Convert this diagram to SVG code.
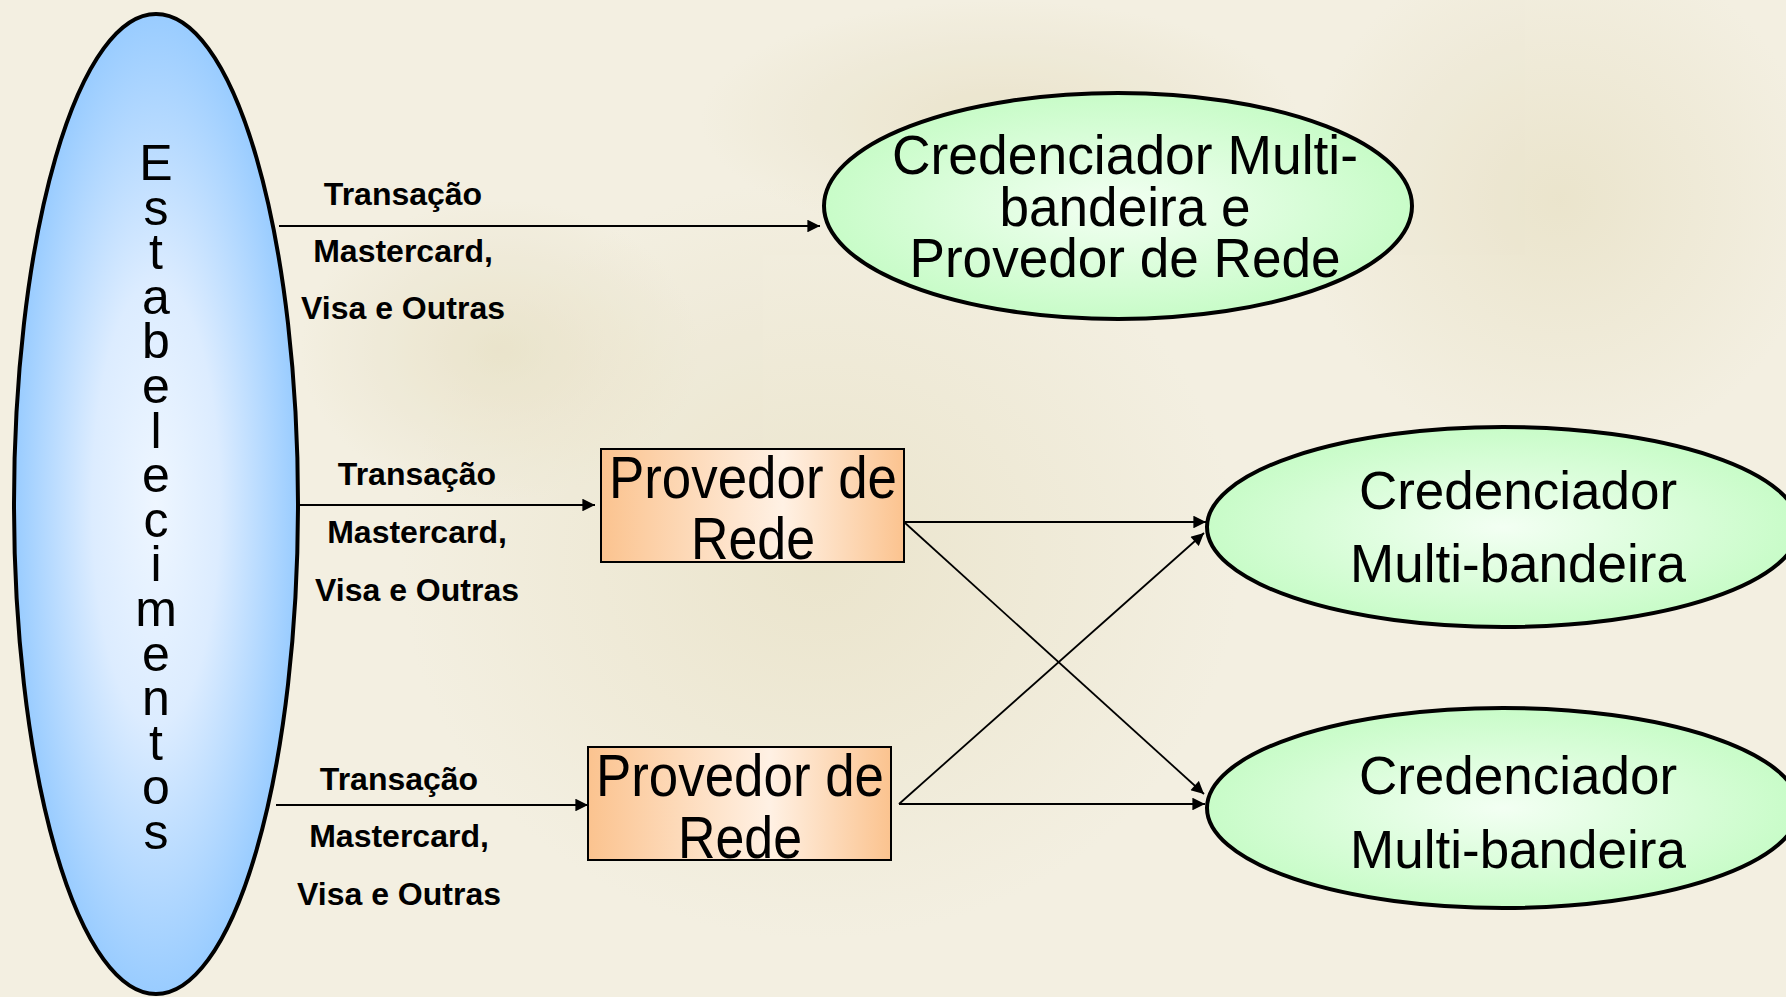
<svg xmlns="http://www.w3.org/2000/svg" width="1786" height="997" viewBox="0 0 1786 997">
<defs>
<style>
.bold{font-family:"Liberation Sans",Arial,sans-serif;font-weight:bold;font-size:32px;fill:#000;text-anchor:middle}
.big{font-family:"Liberation Sans",Arial,sans-serif;fill:#000;text-anchor:middle}
.conn{stroke:#000;stroke-width:1.8;fill:none;marker-end:url(#ah)}
</style>
<marker id="ah" viewBox="0 0 10 10" refX="10" refY="5" markerWidth="8" markerHeight="7" markerUnits="strokeWidth" orient="auto">
<path d="M0,0 L10,5 L0,10 z" fill="#000"/>
</marker>
<radialGradient id="blue" cx="50%" cy="50%" r="50%">
<stop offset="0" stop-color="#eef6ff"/>
<stop offset="0.45" stop-color="#dcecff"/>
<stop offset="1" stop-color="#99ccff"/>
</radialGradient>
<radialGradient id="green" cx="50%" cy="50%" r="50%">
<stop offset="0" stop-color="#f3fff3"/>
<stop offset="1" stop-color="#c8fcc8"/>
</radialGradient>
<linearGradient id="orange" x1="0" y1="0" x2="1" y2="0">
<stop offset="0" stop-color="#fbc38f"/>
<stop offset="0.6" stop-color="#fff1e4"/>
<stop offset="1" stop-color="#fbc38f"/>
</linearGradient>
<radialGradient id="bg1" cx="50%" cy="50%" r="50%">
<stop offset="0" stop-color="#e4dcbc" stop-opacity="0.7"/>
<stop offset="1" stop-color="#e4dcbc" stop-opacity="0"/>
</radialGradient>
</defs>
<rect width="1786" height="997" fill="#f3efe1"/>
<g id="background" opacity="0.8">
<ellipse cx="820" cy="560" rx="420" ry="380" fill="url(#bg1)"/>
<ellipse cx="1560" cy="200" rx="260" ry="260" fill="url(#bg1)"/>
<ellipse cx="1000" cy="120" rx="300" ry="120" fill="url(#bg1)"/>
<ellipse cx="500" cy="350" rx="200" ry="150" fill="url(#bg1)"/>
</g>
<g id="connectors">
<line class="conn" x1="279" y1="226" x2="820" y2="226"/>
<line class="conn" x1="298" y1="505" x2="595" y2="505"/>
<line class="conn" x1="276" y1="805" x2="588" y2="805"/>
<line class="conn" x1="904" y1="522" x2="1206" y2="522"/>
<line class="conn" x1="904" y1="522" x2="1204" y2="794"/>
<line class="conn" x1="899" y1="804" x2="1204" y2="533"/>
<line class="conn" x1="899" y1="804" x2="1205" y2="804"/>
</g>
<g id="labels">
<text class="bold" x="403" y="205">Transação</text>
<text class="bold" x="403" y="262">Mastercard,</text>
<text class="bold" x="403" y="319">Visa e Outras</text>
<text class="bold" x="417" y="485">Transação</text>
<text class="bold" x="417" y="543">Mastercard,</text>
<text class="bold" x="417" y="601">Visa e Outras</text>
<text class="bold" x="399" y="790">Transação</text>
<text class="bold" x="399" y="847">Mastercard,</text>
<text class="bold" x="399" y="905">Visa e Outras</text>
</g>
<g id="estabelecimentos">
<ellipse cx="156" cy="504" rx="142" ry="490" fill="url(#blue)" stroke="#000" stroke-width="4"/>
<text class="big" font-size="50" x="156" y="180">E<tspan x="156" dy="44.6">s</tspan><tspan x="156" dy="44.6">t</tspan><tspan x="156" dy="44.6">a</tspan><tspan x="156" dy="44.6">b</tspan><tspan x="156" dy="44.6">e</tspan><tspan x="156" dy="44.6">l</tspan><tspan x="156" dy="44.6">e</tspan><tspan x="156" dy="44.6">c</tspan><tspan x="156" dy="44.6">i</tspan><tspan x="156" dy="44.6">m</tspan><tspan x="156" dy="44.6">e</tspan><tspan x="156" dy="44.6">n</tspan><tspan x="156" dy="44.6">t</tspan><tspan x="156" dy="44.6">o</tspan><tspan x="156" dy="44.6">s</tspan></text>
</g>
<g id="credenciador-provedor">
<ellipse cx="1118" cy="206" rx="294" ry="113" fill="url(#green)" stroke="#000" stroke-width="4"/>
<text class="big" font-size="55" x="1125" y="174" textLength="466" lengthAdjust="spacingAndGlyphs">Credenciador Multi-</text>
<text class="big" font-size="55" x="1125" y="226" textLength="251" lengthAdjust="spacingAndGlyphs">bandeira e</text>
<text class="big" font-size="55" x="1125" y="277" textLength="431" lengthAdjust="spacingAndGlyphs">Provedor de Rede</text>
</g>
<g id="provedor1">
<rect x="601" y="449" width="303" height="113" fill="url(#orange)" stroke="#000" stroke-width="2"/>
<text class="big" font-size="60" x="753" y="498" textLength="288" lengthAdjust="spacingAndGlyphs">Provedor de</text>
<text class="big" font-size="60" x="753" y="559" textLength="124" lengthAdjust="spacingAndGlyphs">Rede</text>
</g>
<g id="provedor2">
<rect x="588" y="747" width="303" height="113" fill="url(#orange)" stroke="#000" stroke-width="2"/>
<text class="big" font-size="60" x="740" y="796" textLength="288" lengthAdjust="spacingAndGlyphs">Provedor de</text>
<text class="big" font-size="60" x="740" y="858" textLength="124" lengthAdjust="spacingAndGlyphs">Rede</text>
</g>
<g id="credenciador1">
<ellipse cx="1503" cy="527" rx="296" ry="100" fill="url(#green)" stroke="#000" stroke-width="4"/>
<text class="big" font-size="53" x="1518" y="509">Credenciador</text>
<text class="big" font-size="53" x="1518" y="582">Multi-bandeira</text>
</g>
<g id="credenciador2">
<ellipse cx="1503" cy="808" rx="296" ry="100" fill="url(#green)" stroke="#000" stroke-width="4"/>
<text class="big" font-size="53" x="1518" y="794">Credenciador</text>
<text class="big" font-size="53" x="1518" y="868">Multi-bandeira</text>
</g>
</svg>
